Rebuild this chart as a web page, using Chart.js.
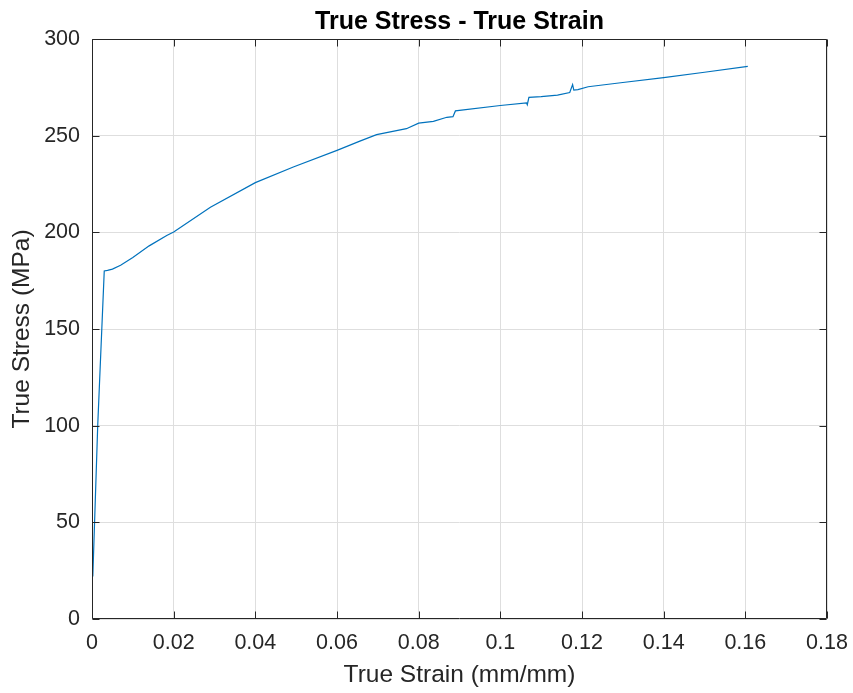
<!DOCTYPE html>
<html>
<head>
<meta charset="utf-8">
<script src="https://cdn.jsdelivr.net/npm/chart.js@4.4.1/dist/chart.umd.min.js"></script>
<style>
  html, body { margin: 0; padding: 0; background: #ffffff; }
  #wrap { width: 853px; height: 693px; position: relative; }
</style>
</head>
<body>
<div id="wrap"><canvas id="c" width="853" height="693"></canvas></div>
<script>
// ---- data ----
const strain = [0.0002, 0.0014, 0.0030, 0.0038, 0.0050, 0.0070, 0.0100, 0.0140, 0.0183, 0.0200,
                0.0290, 0.0400, 0.0493, 0.0600, 0.0656, 0.0697, 0.0770, 0.0800, 0.0836, 0.0869,
                0.0884, 0.0890, 0.1000, 0.1064, 0.1066, 0.1070, 0.1100, 0.1140, 0.1170, 0.1177,
                0.1180, 0.1190, 0.1215, 0.1300, 0.1400, 0.1500, 0.1606];
const stress = [22, 100, 180, 180.3, 181, 183, 187, 193, 198.4, 200.2,
                213, 225.7, 233.8, 242.4, 247.2, 250.5, 253.6, 256.5, 257.4, 259.5,
                259.8, 262.8, 265.6, 267.0, 266.0, 269.8, 270.2, 271.0, 272.3, 276.4,
                273.6, 273.8, 275.3, 277.5, 280.0, 282.8, 285.8];
const xTicks = [0, 0.02, 0.04, 0.06, 0.08, 0.1, 0.12, 0.14, 0.16, 0.18];
const yTicks = [0, 50, 100, 150, 200, 250, 300];
const titleText = 'True Stress - True Strain';
const xLabel = 'True Strain (mm/mm)';
const yLabel = 'True Stress (MPa)';

const points = strain.map((x, i) => ({ x: x, y: stress[i] }));
const FONT = "'Liberation Sans', Arial, Helvetica, sans-serif";
const AXC = '#262626';

// draws the title centred over the plot area, the outer box and inward ticks
const boxPlugin = {
  id: 'boxTicks',
  afterDraw(chart) {
    const ctx = chart.ctx, a = chart.chartArea;
    const xs = chart.scales.x, ys = chart.scales.y;
    ctx.save();
    ctx.strokeStyle = AXC;
    ctx.lineWidth = 1;
    ctx.beginPath();
    const L = Math.round(a.left) + 0.5, R = Math.round(a.right) - 0.5;
    const T = Math.round(a.top) + 0.5, B = Math.round(a.bottom) - 0.5;
    ctx.rect(L, T, R - L, B - T);
    const tl = 7;
    xTicks.forEach(v => {
      const p = Math.round(xs.getPixelForValue(v)) + 0.5;
      ctx.moveTo(p, B); ctx.lineTo(p, B - tl);
      ctx.moveTo(p, T); ctx.lineTo(p, T + tl);
    });
    yTicks.forEach(v => {
      const p = Math.round(ys.getPixelForValue(v)) + 0.5;
      ctx.moveTo(L, p); ctx.lineTo(L + tl, p);
      ctx.moveTo(R, p); ctx.lineTo(R - tl, p);
    });
    ctx.stroke();
    ctx.fillStyle = '#000000';
    ctx.font = "bold 25px " + FONT;
    ctx.textAlign = 'center';
    ctx.textBaseline = 'alphabetic';
    ctx.fillText(titleText, (a.left + a.right) / 2, a.top - 10.5);
    ctx.restore();
  }
};

new Chart(document.getElementById('c'), {
  type: 'scatter',
  data: {
    datasets: [{
      data: points,
      showLine: true,
      borderColor: '#0072BD',
      backgroundColor: '#0072BD',
      borderWidth: 1.2,
      pointRadius: 0,
      tension: 0
    }]
  },
  options: {
    responsive: false,
    animation: false,
    layout: { padding: { left: 0, right: 26, top: 39, bottom: 0 } },
    plugins: {
      legend: { display: false },
      tooltip: { enabled: false },
      title: { display: false }
    },
    scales: {
      x: {
        type: 'linear',
        min: 0, max: 0.18,
        afterBuildTicks(s) { s.ticks = xTicks.map(v => ({ value: v })); },
        afterFit(s) { s.height = 74; s.paddingRight = 0; s.paddingLeft = 0; },
        ticks: {
          color: AXC,
          font: { family: FONT, size: 21.5 },
          padding: 11.5,
          maxRotation: 0,
          callback: v => String(Number(v.toFixed(2)))
        },
        grid: { color: '#dedede', drawTicks: false, lineWidth: 1 },
        border: { display: false },
        title: {
          display: true, text: xLabel, color: AXC,
          font: { family: FONT, size: 24.5 }, padding: { top: 3.5, bottom: 3.5 }
        }
      },
      y: {
        type: 'linear',
        min: 0, max: 300,
        afterBuildTicks(s) { s.ticks = yTicks.map(v => ({ value: v })); },
        afterFit(s) { s.width = 92; s.paddingTop = 0; s.paddingBottom = 0; },
        ticks: {
          color: AXC,
          font: { family: FONT, size: 21.5 },
          padding: 12
        },
        grid: { color: '#dedede', drawTicks: false, lineWidth: 1 },
        border: { display: false },
        title: {
          display: true, text: yLabel, color: AXC,
          font: { family: FONT, size: 24.5 }, padding: { top: 8, bottom: 8 }
        }
      }
    }
  },
  plugins: [boxPlugin]
});
</script>
</body>
</html>
